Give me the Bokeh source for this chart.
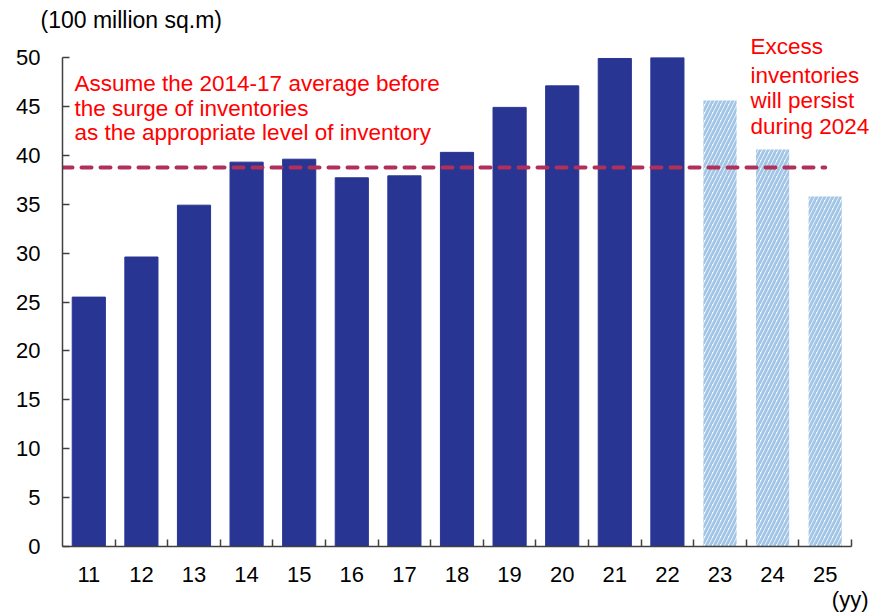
from bokeh.plotting import figure
from bokeh.models import FixedTicker, SingleIntervalTicker, Label, ColumnDataSource, Title
from bokeh.embed import file_html
from bokeh.resources import INLINE

# ---- data ----
years = ["11", "12", "13", "14", "15", "16", "17", "18", "19", "20", "21", "22", "23", "24", "25"]
actual_values = [25.5, 29.6, 34.9, 39.3, 39.6, 37.7, 37.9, 40.3, 44.9, 47.1, 49.9, 50.0]
forecast_values = [45.6, 40.6, 35.8]
appropriate_level = 38.75
y_axis_title = "(100 million sq.m)"
x_axis_title = "(yy)"
left_note = ["Assume the 2014-17 average before", "the surge of inventories",
             "as the appropriate level of inventory"]
right_note = ["Excess", "inventories", "will persist", "during 2024"]

FONT = "Liberation Sans"
n = len(years)
n_act = len(actual_values)

act_src = ColumnDataSource(dict(x=[i + 0.5 for i in range(n_act)], top=actual_values))
fc_src = ColumnDataSource(dict(x=[n_act + i + 0.5 for i in range(len(forecast_values))], top=forecast_values))

AXIS_W, FW, FH = 789, 810, 489
px_per_x = AXIS_W / n
px_per_y = FH / 50

p = figure(frame_width=FW, frame_height=FH, x_range=(0, FW / px_per_x), y_range=(0, 50),
           output_backend="svg", toolbar_location=None,
           min_border_left=62, min_border_right=0, min_border_top=57, min_border_bottom=67)
p.outline_line_color = None
p.grid.visible = False
p.background_fill_color = "white"

p.vbar(x="x", top="top", width=0.63, source=act_src, fill_color="#283593", line_color="#283593")
p.vbar(x="x", top="top", width=0.63, source=fc_src, fill_color="#f6f9fc", line_color=None,
       hatch_pattern="/", hatch_color="#a3c6e6", hatch_scale=8, hatch_weight=2.8)

p.line(x=[0, n - 0.5], y=[appropriate_level, appropriate_level], line_color="#b0305a",
       line_width=4, line_dash="10 9", line_cap="round")

# axes
xa = p.xaxis[0]
xa.bounds = (0, n)
xa.ticker = FixedTicker(ticks=[i + 0.5 for i in range(n)], minor_ticks=[i + 1 for i in range(n)])
xa.major_label_overrides = {i + 0.5: years[i] for i in range(n)}
xa.major_tick_line_color = None
xa.minor_tick_in = 7
xa.minor_tick_out = 0
xa.minor_tick_line_color = "#404040"
xa.minor_tick_line_width = 1.5
xa.axis_line_color = "#404040"
xa.axis_line_width = 1.5
xa.major_label_text_font = FONT
xa.major_label_text_font_size = "22px"
xa.major_label_text_color = "black"
xa.major_label_standoff = 14

ya = p.yaxis[0]
ya.ticker = SingleIntervalTicker(interval=5, num_minor_ticks=0)
ya.major_tick_in = 7
ya.major_tick_out = 0
ya.minor_tick_line_color = None
ya.major_tick_line_color = "#404040"
ya.major_tick_line_width = 1.5
ya.axis_line_color = "#404040"
ya.axis_line_width = 1.5
ya.major_label_text_font = FONT
ya.major_label_text_font_size = "22px"
ya.major_label_text_color = "black"
ya.major_label_standoff = 22

# in-frame notes
for k, t in enumerate(left_note):
    p.add_layout(Label(x=(74 - 62) / px_per_x, y=(546 - 83 - 24.5 * k) / px_per_y, text=t,
                       text_font=FONT, text_font_size="22.5px", text_color="#ff0000",
                       text_align="left", text_baseline="middle"))
for k, t in enumerate(right_note[1:], start=1):
    p.add_layout(Label(x=(750 - 62) / px_per_x, y=(546 - 49 - 25.5 * k) / px_per_y, text=t,
                       text_font=FONT, text_font_size="22.5px", text_color="#ff0000",
                       text_align="left", text_baseline="middle"))

# texts outside the frame as titles
p.title = None
p.add_layout(Title(text=right_note[0], align="left", offset=750 - 62, standoff=-2,
                   text_font=FONT, text_font_size="22.5px", text_color="#ff0000",
                   text_font_style="normal"), "above")
p.add_layout(Title(text=y_axis_title, align="left", offset=-22, standoff=0,
                   text_font=FONT, text_font_size="23px", text_color="black",
                   text_font_style="normal"), "above")
p.add_layout(Title(text=x_axis_title, align="right", offset=4, standoff=0,
                   text_font=FONT, text_font_size="22px", text_color="black",
                   text_font_style="normal"), "below")

open("out.html", "w").write(file_html(p, INLINE))
